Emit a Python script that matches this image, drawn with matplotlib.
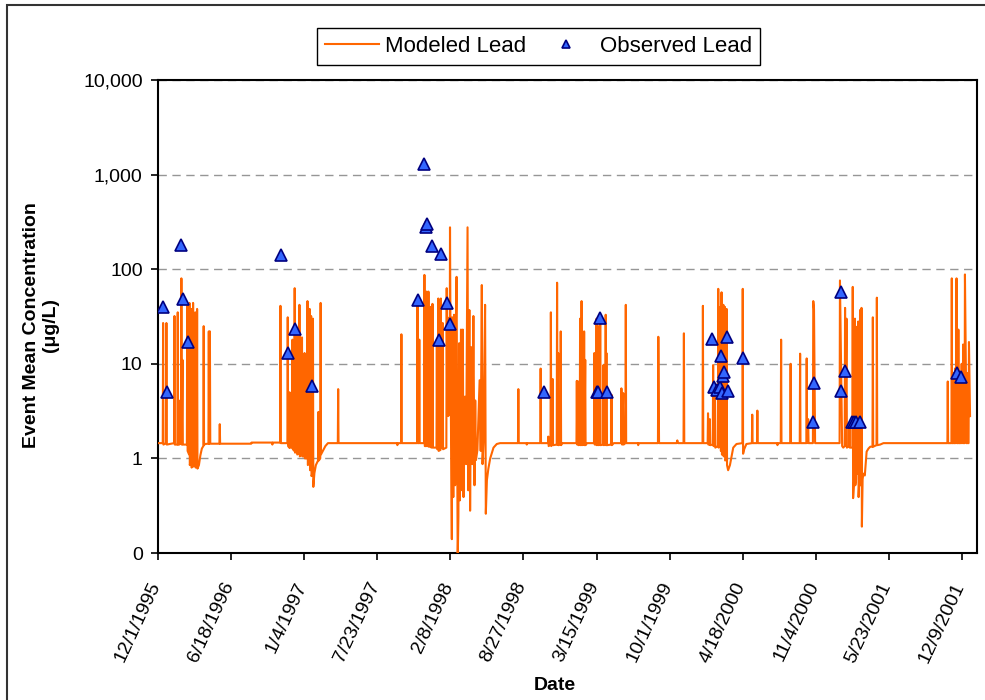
import numpy as np
import matplotlib
matplotlib.use("Agg")
import matplotlib.pyplot as plt
import matplotlib.transforms as mtransforms
from matplotlib.patches import Rectangle

plt.rcParams['font.family'] = ['Liberation Sans', 'DejaVu Sans']

# dates are days counted from 12/1/1995
start = np.datetime64('1995-12-01')

# modeled lead, vertices of the line (day, ug/L)
model_day = [
    0, 13, 14, 15, 22, 23, 24,
    44, 45, 46, 53, 54, 55, 57, 58,
    63, 64, 65, 67, 68,
    79, 80, 81, 85, 86, 87,
    90, 91, 92, 95, 96, 97,
    101, 102, 103, 106, 107, 108,
    112, 116, 120, 124, 125, 126, 128,
    138, 139, 140, 142, 143,
    168, 169, 170, 255, 256,
    312, 313, 314, 334, 335, 336,
    354, 355, 356, 359, 360, 361, 367, 368, 369,
    373, 374, 375, 379, 380, 381,
    386, 387, 388, 393, 394, 395,
    400, 401, 402, 408, 409, 410,
    414, 415, 416, 418, 419, 420,
    423, 424, 425, 428, 432, 438, 439, 440,
    444, 445, 446, 451, 458, 465,
    492, 493, 494,
    654, 655, 656, 665, 666, 667,
    709, 710, 711, 714, 715, 716,
    728, 729, 730, 734, 735, 736, 739, 740, 741,
    746, 747, 748, 750, 751, 752,
    762, 763, 764, 766, 767, 768,
    773, 774, 775, 778, 779, 780,
    789, 790, 791, 792, 794,
    798, 799, 801, 804, 805, 808, 810, 813, 815,
    817, 820, 822, 824, 826, 829, 832, 834, 836,
    840, 843, 847, 849, 852, 854, 857, 860,
    863, 866, 868, 870, 874, 880, 883,
    886, 888, 891, 895, 897, 900, 904, 909,
    918, 927, 936,
    985, 986, 987, 1008, 1009, 1010,
    1046, 1047, 1048, 1067, 1068, 1069,
    1074, 1075, 1076, 1079, 1080, 1081,
    1091, 1092, 1093, 1095, 1096, 1101, 1102, 1103, 1106,
    1145, 1146, 1147, 1150, 1151, 1154, 1155, 1156, 1158, 1159, 1160,
    1165, 1166, 1167, 1169, 1170, 1174,
    1193, 1194, 1195, 1199, 1200, 1201, 1204, 1205, 1206, 1209, 1210, 1211,
    1218, 1219, 1220, 1224, 1225, 1226, 1227, 1228,
    1240, 1241, 1242, 1247,
    1267, 1268, 1270, 1273, 1274, 1279, 1280, 1281,
    1313, 1314, 1315, 1368, 1369, 1371,
    1419, 1421, 1423, 1438, 1439, 1440,
    1490, 1491, 1492,
    1504, 1505, 1506, 1509, 1510, 1511,
    1518, 1519, 1520, 1523, 1524, 1525,
    1532, 1533, 1534, 1537, 1538, 1539, 1540,
    1541, 1542, 1543, 1546, 1547, 1548, 1550, 1551, 1552,
    1555, 1556, 1557, 1560, 1565, 1570, 1574, 1583,
    1599, 1600, 1601, 1604, 1610,
    1625, 1626, 1627, 1639, 1640, 1641,
    1694, 1695, 1696, 1704, 1705, 1706,
    1730, 1731, 1732, 1756, 1757, 1758,
    1774, 1775, 1776, 1779, 1780,
    1792, 1793, 1795, 1798,
    1865, 1866, 1870, 1872, 1875,
    1879, 1880, 1881, 1884, 1885,
    1891, 1892, 1893,
    1900, 1901, 1902, 1905, 1907, 1908,
    1910, 1912, 1913, 1915, 1916, 1917,
    1919, 1921, 1922, 1924, 1925, 1926,
    1928, 1930, 1934, 1939, 1944, 1949,
    1955, 1956, 1957, 1966, 1967, 1968,
    1976, 1985,
    2160, 2161, 2162, 2171, 2172, 2173, 2176, 2177, 2178,
    2181, 2182, 2183, 2185, 2186, 2189, 2190, 2191,
    2194, 2195, 2196, 2198, 2199, 2202, 2203, 2204,
    2207, 2208, 2211, 2212, 2214, 2215, 2216, 2218, 2219, 2222,
]
model_val = [
    1.45, 1.45, 27, 1.4, 1.45, 27, 1.4,
    1.45, 32, 1.4, 1.4, 35, 1.4, 4.1, 1.4,
    1.45, 80, 1.4, 11, 1.4,
    1.4, 41, 1.2, 1.1, 44, 0.85,
    0.95, 38, 0.8, 0.9, 44, 0.82,
    0.95, 35, 0.8, 0.9, 38, 0.78,
    0.85, 1.08, 1.27, 1.35, 25, 1.38, 1.42,
    1.43, 22, 1.43, 22, 1.43,
    1.43, 2.3, 1.43, 1.43, 1.47,
    1.47, 1.4, 1.47, 1.47, 41, 1.45,
    1.45, 31, 1.35, 1.3, 5, 1.3, 1.3, 18, 1.25,
    1.2, 63, 1.15, 1.2, 20, 1.1,
    1.15, 42, 1.05, 1.1, 19, 1.05,
    1.05, 13, 1.0, 1.0, 46, 0.85,
    0.9, 38, 0.75, 0.8, 32, 0.65,
    0.7, 30, 0.5, 0.7, 0.85, 0.95, 3.1, 0.95,
    1.0, 44, 1.1, 1.2, 1.35, 1.45,
    1.45, 5.4, 1.45,
    1.45, 1.38, 1.45, 1.45, 20.5, 1.45,
    1.45, 47, 1.45, 1.45, 18, 1.45,
    1.45, 87, 1.35, 1.35, 58, 1.35, 1.35, 58, 1.33,
    1.33, 40, 1.3, 1.32, 43, 1.3,
    1.3, 18, 1.25, 1.25, 49, 1.2,
    1.23, 49, 1.3, 1.3, 27, 1.25,
    1.3, 63, 5.7, 31, 2.8,
    3, 277, 5, 0.14, 31, 0.39, 33, 0.52, 25,
    83, 0.08, 0.24, 16.5, 0.36, 23, 0.46, 23, 0.39,
    4.5, 0.87, 277, 0.46, 37, 0.28, 15, 0.87,
    32, 0.52, 4.1, 0.96, 1.23, 6.7, 1.2,
    68, 0.87, 1.6, 42, 0.26, 0.59, 0.78, 1.0,
    1.3, 1.42, 1.45,
    1.45, 5.4, 1.45, 1.45, 1.4, 1.45,
    1.45, 8.9, 1.45, 1.45, 1.7, 1.35,
    1.4, 35, 1.35, 1.4, 6.9, 1.38,
    1.4, 72, 1.4, 13, 1.38, 1.4, 22, 1.38, 1.45,
    1.45, 6.6, 1.4, 6.5, 1.38, 1.4, 30, 1.38, 1.4, 46, 1.38,
    1.4, 22, 1.38, 11, 1.38, 1.45,
    1.45, 13, 1.4, 1.4, 30, 1.38, 1.4, 25, 1.38, 1.4, 33, 1.38,
    1.4, 9.7, 1.38, 1.4, 33, 1.38, 13, 1.38,
    1.4, 4.7, 1.38, 1.45,
    1.45, 5.5, 1.4, 4.9, 1.4, 1.45, 42, 1.45,
    1.45, 1.38, 1.45, 1.45, 19.3, 1.45,
    1.45, 1.55, 1.45, 1.45, 21, 1.45,
    1.45, 41, 1.45,
    1.45, 3.0, 1.4, 1.4, 2.6, 1.38,
    1.4, 9.7, 1.35, 1.35, 5, 1.3,
    1.35, 62, 1.3, 1.35, 10.5, 40, 1.2,
    1.2, 57, 1.1, 1.08, 42, 1.05, 1.1, 40, 0.95,
    1.0, 38, 0.85, 0.75, 0.85, 1.08, 1.3, 1.42,
    1.45, 62, 1.12, 1.25, 1.42,
    1.45, 2.9, 1.45, 1.45, 3.2, 1.45,
    1.45, 1.38, 1.45, 1.45, 18, 1.45,
    1.45, 10, 1.45, 1.45, 12.8, 1.45,
    1.45, 11.4, 1.45, 2.6, 1.45,
    1.45, 46, 38, 1.45,
    1.45, 76, 5, 1.35, 1.3,
    1.35, 39, 1.35, 30, 1.3,
    1.35, 2.25, 1.3,
    1.3, 65, 0.38, 0.6, 30, 0.52,
    0.6, 24.6, 0.69, 0.7, 28, 0.39,
    0.6, 37, 0.52, 0.6, 39, 0.19,
    0.6, 0.69, 0.66, 1.18, 1.27, 1.33,
    1.33, 31, 1.33, 1.38, 50, 1.38,
    1.4, 1.45,
    1.45, 6.5, 1.45, 1.45, 80, 1.45, 1.45, 8, 1.45,
    1.45, 9, 1.45, 80, 1.45, 1.45, 23, 1.45,
    1.45, 7.5, 1.45, 1.45, 10, 1.45, 16, 1.45,
    1.45, 88, 6, 1.45, 1.45, 8, 1.45, 1.45, 17, 2.8,
]

# observed lead (day, ug/L)
obs_day = [15, 25, 63, 68, 82, 336, 356, 374, 421,
           711, 729, 734, 736, 751, 768, 773, 790, 799,
           1057, 1200, 1205, 1210, 1228,
           1517, 1520, 1529, 1538, 1540, 1542, 1546, 1550, 1556, 1561, 1600,
           1793, 1796, 1868, 1868, 1880, 1898, 1904, 1910, 1922, 2185, 2196]
obs_val = [40, 5, 180, 49, 17, 140, 13, 23.5, 5.8,
           47, 1300, 280, 300, 177, 18, 146, 44, 26.5,
           5, 5, 5, 30.5, 5,
           18.5, 5.7, 5.3, 5.7, 12, 4.9, 7.5, 8.2, 19.3, 5.1, 11.6,
           2.44, 6.2, 5.1, 57.6, 8.4, 2.44, 2.44, 2.44, 2.44, 7.9, 7.2]

tick_step = 200
tick_labels = ['12/1/1995', '6/18/1996', '1/4/1997', '7/23/1997', '2/8/1998',
               '8/27/1998', '3/15/1999', '10/1/1999', '4/18/2000', '11/4/2000',
               '5/23/2001', '12/9/2001']
y_ticks = [0.1, 1, 10, 100, 1000, 10000]
y_labels = ['0', '1', '10', '100', '1,000', '10,000']

model_t = start + np.array(model_day).astype('timedelta64[D]')
obs_t = start + np.array(obs_day).astype('timedelta64[D]')
tick_t = start + (np.arange(len(tick_labels)) * tick_step).astype('timedelta64[D]')

fig = plt.figure(figsize=(9.85, 7.0), dpi=100)
ax = fig.add_axes([158/985, 1 - 553/700, (977 - 158)/985, (553 - 80)/700])

ax.plot(model_t, model_val, color='#FF6600', lw=1.5, label='Modeled Lead', zorder=3)
ax.plot(obs_t, obs_val, ls='none', marker='^', ms=9, mfc='#3366FF', mec='#000080',
        mew=1.2, label='Observed Lead', zorder=4)

ax.set_yscale('log')
ax.set_ylim(0.1, 10000)
ax.set_yticks(y_ticks)
ax.set_yticklabels(y_labels)
ax.yaxis.set_minor_locator(matplotlib.ticker.NullLocator())
ax.set_xlim(start, start + np.timedelta64(2241, 'D'))
ax.set_xticks(tick_t)
ax.set_xticklabels(tick_labels, rotation=65, ha='right', va='top')
ax.xaxis.set_minor_locator(matplotlib.ticker.NullLocator())

ax.grid(axis='y', color='#969696', ls=(0, (6, 4)), lw=1.0)
ax.set_axisbelow(True)
ax.tick_params(axis='both', labelsize=14, length=5, width=1.2, direction='out')
ax.tick_params(axis='x', pad=14)
ax.tick_params(axis='y', pad=6)
off = mtransforms.ScaledTranslation(6/100, 0, fig.dpi_scale_trans)
for lab in ax.get_xticklabels():
    lab.set_transform(lab.get_transform() + off)
for s in ax.spines.values():
    s.set_linewidth(1.5)

fig.text(0.0416, 0.535, 'Event Mean Concentration\n(\u03bcg/L)', rotation=90,
         ha='center', va='center', fontsize=14, fontweight='bold', multialignment='center')
fig.text(0.5635, 0.021, 'Date', ha='center', va='center', fontsize=14, fontweight='bold')

leg = ax.legend(loc='center', bbox_to_anchor=(538.5/985, 1 - 46.5/700),
                bbox_transform=fig.transFigure, ncol=2, fontsize=16, frameon=True,
                fancybox=False, edgecolor='black', framealpha=1, handlelength=2.4,
                handletextpad=0.3, columnspacing=0.6, markerscale=0.6, borderpad=0.35)
leg.get_frame().set_linewidth(1.0)

fig.patches.append(Rectangle((7/985, -0.5), 2, 0.5 + 1 - 5/700, transform=fig.transFigure,
                             fill=False, ec='#333333', lw=1.5))

fig.savefig('out.png', dpi=100)
